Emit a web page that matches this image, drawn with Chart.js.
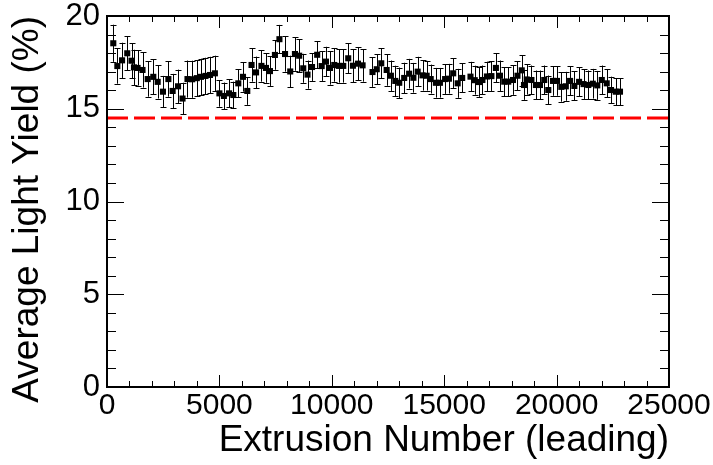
<!DOCTYPE html>
<html lang="en">
<head>
    <meta charset="UTF-8">
    <title>Average Light Yield vs Extrusion Number</title>
    <script src="https://cdn.jsdelivr.net/npm/chart.js@4.4.1/dist/chart.umd.min.js"></script>
    <style>
        html, body { margin: 0; padding: 0; background: #fff; }
        #wrap { position: relative; width: 713px; height: 465px; }
    </style>
</head>
<body>
    <div id="wrap">
        <canvas id="lyChart"></canvas>
    </div>

    <script>
        // Extrusion number (leading) of each measured point
        const extrusion = [
            280, 460, 670, 900, 1090, 1200, 1360, 1580, 1810, 2060,
            2255, 2490, 2730, 2920, 3160, 3360, 3580, 3790, 3995, 4180,
            4380, 4580, 4800, 5000, 5200, 5430, 5620, 5840, 6050, 6240,
            6430, 6630, 6870, 7070, 7250, 7470, 7670, 7920, 8150, 8360,
            8550, 8730, 8920, 9120, 9350, 9550, 9740, 9920, 10110, 10310,
            10510, 10730, 10940, 11165, 11370, 11810, 12000, 12200, 12440, 12630,
            12825, 13000, 13220, 13440, 13630, 13820, 14035, 14220, 14400, 14630,
            14810, 15040, 15210, 15400, 15600, 15800, 16170, 16360, 16550, 16700,
            16900, 17100, 17300, 17480, 17670, 17850, 18060, 18260, 18450, 18550,
            18670, 18880, 19080, 19260, 19450, 19630, 19840, 20020, 20210, 20410,
            20600, 20790, 21000, 21200, 21410, 21610, 21810, 22010, 22230, 22420,
            22630, 22820
        ];

        // Average light yield (%)
        const lightYield = [
            18.53, 17.30, 17.61, 17.99, 17.59, 17.23, 17.20, 17.09, 16.60, 16.72,
            16.45, 15.92, 16.60, 15.96, 16.21, 15.55, 16.60, 16.59, 16.65, 16.72,
            16.77, 16.82, 16.91, 15.83, 15.69, 15.83, 15.74, 16.37, 16.72, 15.96,
            17.36, 16.96, 17.31, 17.20, 17.03, 17.90, 18.75, 17.95, 17.01, 17.95,
            17.86, 17.18, 16.84, 17.25, 17.91, 17.30, 17.54, 17.20, 17.36, 17.31,
            17.31, 17.72, 17.32, 17.43, 17.34, 16.98, 17.13, 17.45, 17.09, 16.78,
            16.50, 16.40, 16.66, 16.89, 16.67, 17.00, 16.80, 16.78, 16.60, 16.40,
            16.40, 16.60, 16.62, 16.91, 16.37, 16.66, 16.73, 16.54, 16.44, 16.55,
            16.74, 16.76, 17.20, 16.78, 16.46, 16.46, 16.55, 16.78, 17.07, 16.28,
            16.58, 16.55, 16.28, 16.28, 16.55, 16.01, 16.50, 16.50, 16.18, 16.21,
            16.50, 16.23, 16.45, 16.33, 16.28, 16.35, 16.26, 16.55, 16.37, 16.01,
            15.92, 15.92
        ];

        // Symmetric error on each point
        const yieldErr = [
            1.00, 0.95, 0.95, 0.92, 0.95, 0.95, 0.95, 0.95, 0.95, 0.95,
            0.90, 0.85, 0.95, 0.92, 0.90, 0.85, 1.00, 1.00, 0.98, 0.98,
            0.98, 0.98, 0.95, 0.72, 0.72, 0.75, 0.72, 0.75, 0.80, 0.75,
            0.90, 0.85, 0.85, 0.80, 0.80, 0.80, 0.77, 0.95, 0.85, 0.90,
            0.90, 0.78, 0.76, 0.75, 0.72, 0.80, 0.80, 0.90, 0.90, 0.90,
            0.90, 0.80, 0.90, 0.90, 0.88, 0.80, 0.80, 0.80, 0.85, 0.82,
            0.82, 0.82, 0.82, 0.80, 0.80, 0.80, 0.82, 0.80, 0.78, 0.80,
            0.80, 0.80, 0.80, 0.80, 0.78, 0.78, 0.80, 0.78, 0.80, 0.78,
            0.80, 0.80, 0.78, 0.82, 0.78, 0.78, 0.80, 0.78, 0.82, 0.80,
            0.82, 0.78, 0.78, 0.78, 0.78, 0.78, 0.80, 0.80, 0.80, 0.78,
            0.78, 0.78, 0.78, 0.80, 0.78, 0.80, 0.78, 0.78, 0.75, 0.72,
            0.72, 0.72
        ];

        // Dashed red reference level
        const refRange = [0, 25000];
        const refLevel = 14.5;

        // Axis ranges and tick steps
        const xRange = [0, 25000];
        const yRange = [0, 20];
        const xMajor = 5000, xMinor = 1000;
        const yMajor = 5, yMinor = 1;

        const points = extrusion.map((x, i) => ({ x: x, y: lightYield[i], err: yieldErr[i] }));

        // Error bars, drawn before the markers so squares sit on top
        const errorBars = {
            id: 'errorBars',
            beforeDatasetsDraw(chart) {
                const ctx = chart.ctx;
                const xs = chart.scales.x, ys = chart.scales.y;
                ctx.save();
                ctx.strokeStyle = '#000';
                ctx.lineWidth = 1;
                points.forEach(p => {
                    const px = Math.round(xs.getPixelForValue(p.x)) + 0.5;
                    const top = ys.getPixelForValue(p.y + p.err);
                    const bot = ys.getPixelForValue(p.y - p.err);
                    ctx.beginPath();
                    ctx.moveTo(px, top);
                    ctx.lineTo(px, bot);
                    ctx.moveTo(px - 3, Math.round(top) + 0.5);
                    ctx.lineTo(px + 3, Math.round(top) + 0.5);
                    ctx.moveTo(px - 3, Math.round(bot) + 0.5);
                    ctx.lineTo(px + 3, Math.round(bot) + 0.5);
                    ctx.stroke();
                });
                ctx.restore();
            }
        };

        // ROOT-like frame with inward ticks on all four sides
        const frameTicks = {
            id: 'frameTicks',
            afterDraw(chart) {
                const ctx = chart.ctx;
                const a = chart.chartArea;
                const xs = chart.scales.x, ys = chart.scales.y;
                ctx.save();
                ctx.strokeStyle = '#000';
                ctx.lineWidth = 1;
                ctx.beginPath();
                for (let v = xRange[0]; v <= xRange[1]; v += xMinor) {
                    const px = Math.round(xs.getPixelForValue(v)) + 0.5;
                    const len = v % xMajor === 0 ? 12 : 6;
                    ctx.moveTo(px, a.bottom); ctx.lineTo(px, a.bottom - len);
                    ctx.moveTo(px, a.top); ctx.lineTo(px, a.top + len);
                }
                for (let v = yRange[0]; v <= yRange[1]; v += yMinor) {
                    const py = Math.round(ys.getPixelForValue(v)) + 0.5;
                    const len = v % yMajor === 0 ? 17 : 9;
                    ctx.moveTo(a.left, py); ctx.lineTo(a.left + len, py);
                    ctx.moveTo(a.right, py); ctx.lineTo(a.right - len, py);
                }
                ctx.stroke();
                ctx.lineWidth = 2;
                ctx.strokeRect(a.left, a.top, a.right - a.left, a.bottom - a.top);
                ctx.restore();
            }
        };

        const ctx = document.getElementById('lyChart').getContext('2d');
        const chart = new Chart(ctx, {
            type: 'scatter',
            data: {
                datasets: [
                    {
                        label: 'reference',
                        type: 'line',
                        data: refRange.map(x => ({ x: x, y: refLevel })),
                        borderColor: '#ff0000',
                        borderWidth: 3,
                        borderDash: [21, 6],
                        pointRadius: 0,
                        fill: false,
                        order: 2
                    },
                    {
                        label: 'light yield',
                        data: points,
                        pointStyle: 'rect',
                        pointRadius: 4.3,
                        pointHoverRadius: 4.3,
                        backgroundColor: '#000',
                        borderColor: '#000',
                        borderWidth: 0,
                        order: 1
                    }
                ]
            },
            options: {
                responsive: true,
                maintainAspectRatio: false,
                animation: false,
                layout: { padding: { top: 16, right: 44, bottom: 0, left: 0 } },
                plugins: {
                    legend: { display: false },
                    tooltip: { enabled: false }
                },
                scales: {
                    x: {
                        type: 'linear',
                        min: xRange[0],
                        max: xRange[1],
                        grid: { display: false, drawTicks: false },
                        border: { display: false },
                        ticks: {
                            stepSize: xMajor,
                            color: '#000',
                            padding: 4,
                            maxRotation: 0,
                            callback: v => String(v),
                            font: { family: 'Liberation Sans, Arial, sans-serif', size: 30, lineHeight: 1 }
                        },
                        title: {
                            display: true,
                            text: 'Extrusion Number (leading)',
                            align: 'end',
                            color: '#000',
                            padding: { top: 0, bottom: 2 },
                            font: { family: 'Liberation Sans, Arial, sans-serif', size: 37, lineHeight: 1.2 }
                        },
                        afterFit(scale) {
                            scale.height = 78;
                            scale.paddingLeft = 0;
                            scale.paddingRight = 0;
                        }
                    },
                    y: {
                        min: yRange[0],
                        max: yRange[1],
                        grid: { display: false, drawTicks: false },
                        border: { display: false },
                        ticks: {
                            stepSize: yMajor,
                            color: '#000',
                            padding: 7,
                            font: { family: 'Liberation Sans, Arial, sans-serif', size: 31, lineHeight: 1 }
                        },
                        title: {
                            display: true,
                            text: 'Average Light Yield (%)',
                            align: 'end',
                            color: '#000',
                            padding: { top: 6, bottom: 0 },
                            font: { family: 'Liberation Sans, Arial, sans-serif', size: 37, lineHeight: 1.2 }
                        },
                        afterFit(scale) {
                            scale.width = 107;
                            scale.paddingTop = 0;
                            scale.paddingBottom = 0;
                        }
                    }
                }
            },
            plugins: [errorBars, frameTicks]
        });
    </script>
</body>
</html>
